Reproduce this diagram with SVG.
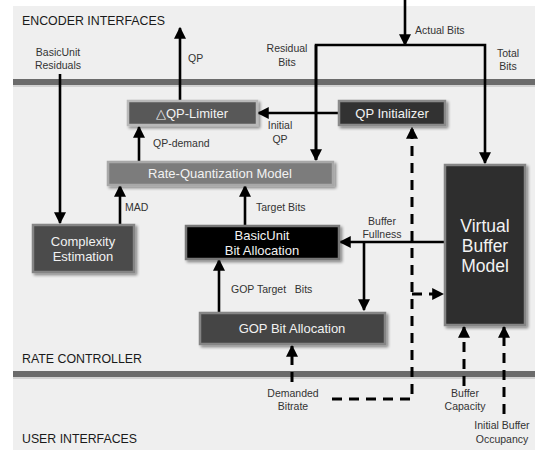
<svg xmlns="http://www.w3.org/2000/svg" width="535" height="450" viewBox="0 0 535 450">
  <defs>
    <style>
      .zone { font-family: "Liberation Sans", Arial, sans-serif; font-size: 13.5px; fill: #1a1a1a; }
      .lbl { font-family: "Liberation Sans", Arial, sans-serif; font-size: 10.5px; fill: #333; }
      .ntxt { font-family: "Liberation Sans", Arial, sans-serif; font-size: 13px; fill: #f2f2f2; text-anchor: middle; }
      .big { font-size: 17.5px; }
      .wire { fill: none; stroke: #000; stroke-width: 2.6; }
      .dash { fill: none; stroke: #000; stroke-width: 3; stroke-dasharray: 10 7; }
      .bar { fill: #6b6b6b; }
      .box { stroke-width: 2.5; filter: url(#shadow); }
    </style>
    <filter id="shadow" x="-10%" y="-20%" width="130%" height="150%">
      <feGaussianBlur in="SourceAlpha" stdDeviation="1.5"/>
      <feOffset dx="2" dy="2" result="b"/>
      <feComponentTransfer><feFuncA type="linear" slope="0.45"/></feComponentTransfer>
      <feMerge><feMergeNode/><feMergeNode in="SourceGraphic"/></feMerge>
    </filter>
    <marker id="arrow" viewBox="0 0 10 10" refX="9" refY="5" markerWidth="4.6" markerHeight="4.6" markerUnits="strokeWidth" orient="auto">
      <path d="M0,0 L10,5 L0,10 z" fill="#000"/>
    </marker>
    <marker id="arrowD" viewBox="0 0 10 10" refX="9" refY="5" markerWidth="4" markerHeight="4" markerUnits="strokeWidth" orient="auto">
      <path d="M0,0 L10,5 L0,10 z" fill="#000"/>
    </marker>
  </defs>

  <!-- background panel -->
  <rect x="0" y="0" width="535" height="450" fill="#ffffff"/>
  <rect x="13" y="6" width="522" height="444" fill="#efefef"/>

  <!-- interface separators -->
  <rect x="13" y="80" width="522" height="7" fill="#000" opacity="0.12"/>
  <rect class="bar" x="13" y="79" width="522" height="6"/>
  <rect x="13" y="372" width="522" height="7" fill="#000" opacity="0.12"/>
  <rect class="bar" x="13" y="371" width="522" height="6"/>

  <!-- zone titles -->
  <text class="zone" x="22" y="25" textLength="143" lengthAdjust="spacingAndGlyphs">ENCODER INTERFACES</text>
  <text class="zone" x="22" y="363" textLength="120" lengthAdjust="spacingAndGlyphs">RATE CONTROLLER</text>
  <text class="zone" x="22" y="443" textLength="115" lengthAdjust="spacingAndGlyphs">USER INTERFACES</text>

  <!-- connectors -->
  <g id="connectors">
    <!-- BasicUnit residuals -->
    <path class="wire" d="M60,74 V223" marker-end="url(#arrow)"/>
    <!-- QP out -->
    <path class="wire" d="M180,100 V28" marker-end="url(#arrow)"/>
    <!-- QP-demand -->
    <path class="wire" d="M139,161 V127" marker-end="url(#arrow)"/>
    <!-- Initial QP -->
    <path class="wire" d="M338,113 H258" marker-end="url(#arrow)"/>
    <!-- Actual bits -->
    <path class="wire" d="M405,0 V45" marker-end="url(#arrow)"/>
    <path class="wire" d="M316,160 V45 H485 V163" marker-end="url(#arrow)"/>
    <path class="wire" d="M316,45 V160" marker-end="url(#arrow)"/>
    <!-- MAD -->
    <path class="wire" d="M120,224 V186" marker-end="url(#arrow)"/>
    <!-- Target bits -->
    <path class="wire" d="M245,225 V186" marker-end="url(#arrow)"/>
    <!-- GOP target bits -->
    <path class="wire" d="M219,312 V260" marker-end="url(#arrow)"/>
    <!-- Buffer fullness -->
    <path class="wire" d="M444,242 H340" marker-end="url(#arrow)"/>
    <path class="wire" d="M364,242 V310" marker-end="url(#arrow)"/>
    <!-- Demanded bitrate -->
    <path class="dash" d="M292,382 V346" marker-end="url(#arrowD)"/>
    <path class="dash" d="M332,399 H412 V128" marker-end="url(#arrowD)"/>
    <path class="dash" d="M412,294 H443" marker-end="url(#arrowD)"/>
    <!-- Buffer capacity -->
    <path class="dash" d="M464,386 V327" marker-end="url(#arrowD)"/>
    <!-- Initial buffer occupancy -->
    <path class="dash" d="M504,414 V327" marker-end="url(#arrowD)"/>
  </g>

  <!-- connector labels -->
  <g id="labels">
    <text class="lbl" x="58" y="56" text-anchor="middle">BasicUnit</text>
    <text class="lbl" x="58" y="69" text-anchor="middle">Residuals</text>
    <text class="lbl" x="188" y="62">QP</text>
    <text class="lbl" x="415" y="34">Actual Bits</text>
    <text class="lbl" x="287" y="52" text-anchor="middle">Residual</text>
    <text class="lbl" x="287" y="66" text-anchor="middle">Bits</text>
    <text class="lbl" x="508" y="57" text-anchor="middle">Total</text>
    <text class="lbl" x="508" y="70" text-anchor="middle">Bits</text>
    <text class="lbl" x="280" y="129" text-anchor="middle">Initial</text>
    <text class="lbl" x="280" y="143" text-anchor="middle">QP</text>
    <text class="lbl" x="153" y="147">QP-demand</text>
    <text class="lbl" x="125" y="211">MAD</text>
    <text class="lbl" x="256" y="211">Target Bits</text>
    <text class="lbl" x="382" y="225" text-anchor="middle">Buffer</text>
    <text class="lbl" x="382" y="238" text-anchor="middle">Fullness</text>
    <text class="lbl" x="231" y="293" xml:space="preserve">GOP Target   Bits</text>
    <text class="lbl" x="293" y="397" text-anchor="middle">Demanded</text>
    <text class="lbl" x="293" y="410" text-anchor="middle">Bitrate</text>
    <text class="lbl" x="465" y="397" text-anchor="middle">Buffer</text>
    <text class="lbl" x="465" y="410" text-anchor="middle">Capacity</text>
    <text class="lbl" x="502" y="429" text-anchor="middle">Initial Buffer</text>
    <text class="lbl" x="502" y="443" text-anchor="middle">Occupancy</text>
  </g>

  <!-- nodes -->
  <g id="qp-limiter">
    <rect class="box" x="128" y="101" width="129" height="24" fill="#585858" stroke="#b9b9b9"/>
    <text class="ntxt" x="192" y="118">△QP-Limiter</text>
  </g>
  <g id="qp-initializer">
    <rect class="box" x="339" y="101" width="106" height="24" fill="#333333" stroke="#8a8a8a"/>
    <text class="ntxt" x="392" y="118">QP Initializer</text>
  </g>
  <g id="rq-model">
    <rect class="box" x="108" y="162" width="225" height="23" fill="#7c7c7c" stroke="#a8a8a8"/>
    <text class="ntxt" x="220" y="178">Rate-Quantization Model</text>
  </g>
  <g id="complexity">
    <rect class="box" x="33" y="225" width="101" height="47" fill="#4b4b4b" stroke="#858585"/>
    <text class="ntxt" x="83" y="246">Complexity</text>
    <text class="ntxt" x="83" y="261">Estimation</text>
  </g>
  <g id="basicunit-alloc">
    <rect class="box" x="186" y="226" width="153" height="33" fill="#000000" stroke="#777777"/>
    <text class="ntxt" x="262" y="240">BasicUnit</text>
    <text class="ntxt" x="262" y="255">Bit Allocation</text>
  </g>
  <g id="gop-alloc">
    <rect class="box" x="200" y="313" width="185" height="31" fill="#454545" stroke="#858585"/>
    <text class="ntxt" x="292" y="333">GOP Bit Allocation</text>
  </g>
  <g id="virtual-buffer">
    <rect class="box" x="445" y="165" width="80" height="160" fill="#2e2e2e" stroke="#858585"/>
    <text class="ntxt big" x="485" y="232">Virtual</text>
    <text class="ntxt big" x="485" y="252">Buffer</text>
    <text class="ntxt big" x="485" y="272">Model</text>
  </g>
</svg>
